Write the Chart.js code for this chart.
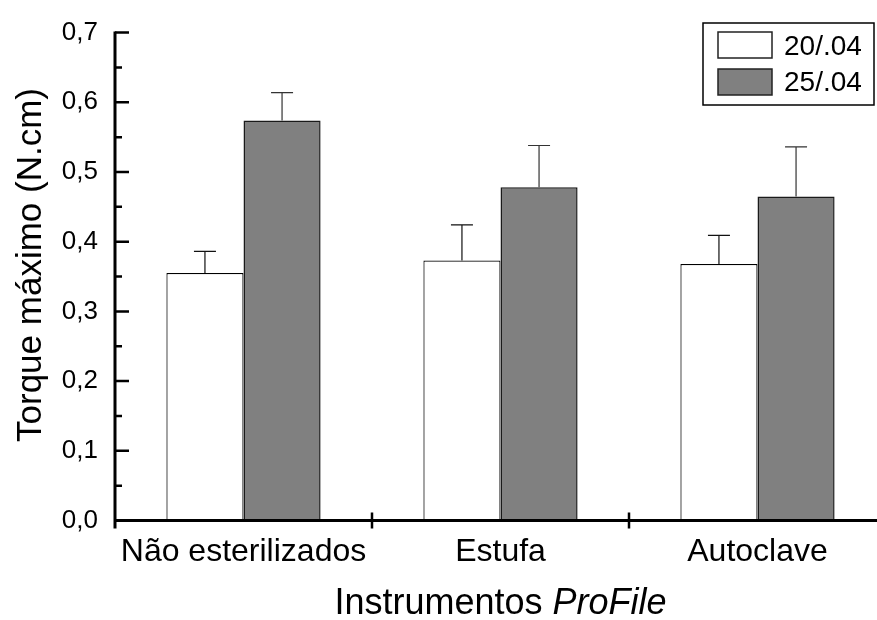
<!DOCTYPE html>
<html>
<head>
<meta charset="utf-8">
<script src="https://cdn.jsdelivr.net/npm/chart.js@4/dist/chart.umd.min.js"></script>
<style>
  html, body { margin: 0; padding: 0; background: #fff; overflow: hidden; }
  #wrap { width: 877px; height: 620px; overflow: hidden; }
</style>
</head>
<body>
<div id="wrap"><canvas id="chart" width="890" height="620"></canvas></div>
<script>
// dados
const categories = ['Não esterilizados', 'Estufa', 'Autoclave'];
const seriesLabels = ['20/.04', '25/.04'];
const values2004 = [0.355, 0.373, 0.368];
const values2504 = [0.574, 0.478, 0.465];
const errors2004 = [0.031, 0.051, 0.041];
const errors2504 = [0.040, 0.060, 0.071];
const yMin = 0, yMax = 0.7, yStep = 0.1;
const yTitle = 'Torque máximo (N.cm)';
const xTitleNormal = 'Instrumentos ';
const xTitleItalic = 'ProFile';

const FONT = '"Liberation Sans", Arial, sans-serif';

// barras de erro, eixos com ticks para dentro, legenda e títulos dos eixos
const extrasPlugin = {
    id: 'extras',
    afterDatasetsDraw(chart) {
        const ctx = chart.ctx;
        const x = chart.scales.x, y = chart.scales.y;
        const area = chart.chartArea;
        const errs = [errors2004, errors2504];

        // barras de erro (só para cima)
        ctx.save();
        ctx.lineWidth = 1.2;
        chart.data.datasets.forEach(function (ds, d) {
            const meta = chart.getDatasetMeta(d);
            ctx.strokeStyle = d === 0 ? '#111' : '#333';
            meta.data.forEach(function (bar, i) {
                const top = y.getPixelForValue(ds.data[i] + errs[d][i]);
                const base = y.getPixelForValue(ds.data[i]);
                ctx.beginPath();
                ctx.moveTo(bar.x, base);
                ctx.lineTo(bar.x, top);
                ctx.moveTo(bar.x - 11, top);
                ctx.lineTo(bar.x + 11, top);
                ctx.stroke();
            });
        });

        // eixos
        ctx.strokeStyle = '#000';
        ctx.lineWidth = 3;
        ctx.beginPath();
        ctx.moveTo(area.left, area.top - 1);
        ctx.lineTo(area.left, area.bottom + 8);
        ctx.moveTo(area.left, area.bottom);
        ctx.lineTo(area.right, area.bottom);
        ctx.stroke();

        // ticks do eixo y (maiores e menores, para dentro)
        ctx.lineWidth = 2.5;
        ctx.beginPath();
        for (let v = yMin; v <= yMax + 1e-9; v += yStep / 2) {
            const py = y.getPixelForValue(v);
            const major = Math.abs(Math.round(v / yStep) * yStep - v) < 1e-6;
            ctx.moveTo(area.left, py);
            ctx.lineTo(area.left + (major ? 14 : 7), py);
        }
        ctx.stroke();

        // ticks do eixo x nos limites das categorias
        ctx.beginPath();
        for (let i = 0; i < categories.length - 1; i++) {
            const px = (x.getPixelForValue(i) + x.getPixelForValue(i + 1)) / 2;
            ctx.moveTo(px, area.bottom - 8);
            ctx.lineTo(px, area.bottom + 8);
        }
        ctx.stroke();

        // legenda
        const lx = 703, ly = 23, lw = 171, lh = 82;
        ctx.fillStyle = '#fff';
        ctx.fillRect(lx, ly, lw, lh);
        ctx.lineWidth = 1.5;
        ctx.strokeStyle = '#000';
        ctx.strokeRect(lx, ly, lw, lh);
        ctx.font = '28px ' + FONT;
        ctx.textBaseline = 'alphabetic';
        ctx.textAlign = 'left';
        chart.data.datasets.forEach(function (ds, d) {
            const sy = 32 + d * 37;
            ctx.fillStyle = ds.backgroundColor;
            ctx.fillRect(718, sy, 54, 26);
            ctx.lineWidth = 1.5;
            ctx.strokeStyle = '#222';
            ctx.strokeRect(718, sy, 54, 26);
            ctx.fillStyle = '#000';
            ctx.fillText(ds.label, 784, 55 + d * 36);
        });

        // título do eixo x, com "ProFile" em itálico
        const center = (area.left + area.right) / 2;
        ctx.font = '36px ' + FONT;
        const w1 = ctx.measureText(xTitleNormal).width;
        ctx.font = 'italic 36px ' + FONT;
        const w2 = ctx.measureText(xTitleItalic).width;
        const start = center - (w1 + w2) / 2;
        ctx.fillStyle = '#000';
        ctx.font = '36px ' + FONT;
        ctx.fillText(xTitleNormal, start, 614);
        ctx.font = 'italic 36px ' + FONT;
        ctx.fillText(xTitleItalic, start + w1, 614);

        // título do eixo y (rotacionado)
        ctx.translate(41, 265);
        ctx.rotate(-Math.PI / 2);
        ctx.font = '35px ' + FONT;
        ctx.textAlign = 'center';
        ctx.fillText(yTitle, 0, 0);
        ctx.restore();
    }
};

new Chart(document.getElementById('chart'), {
    type: 'bar',
    data: {
        labels: categories,
        datasets: [{
            label: seriesLabels[0],
            data: values2004,
            backgroundColor: '#ffffff',
            borderColor: '#000000',
            borderWidth: 1.2,
            borderSkipped: false
        }, {
            label: seriesLabels[1],
            data: values2504,
            backgroundColor: '#808080',
            borderColor: '#1a1a1a',
            borderWidth: 1.5,
            borderSkipped: false
        }]
    },
    options: {
        responsive: false,
        animation: false,
        devicePixelRatio: 1,
        layout: { padding: { top: 28, left: 0, right: 4, bottom: 0 } },
        plugins: {
            legend: { display: false },
            tooltip: { enabled: false }
        },
        datasets: {
            bar: { categoryPercentage: 0.6, barPercentage: 1.0 }
        },
        scales: {
            x: {
                grid: { display: false, drawTicks: false },
                border: { display: false },
                ticks: {
                    color: '#000',
                    font: { family: FONT, size: 32 },
                    padding: 12,
                    maxRotation: 0,
                    autoSkip: false
                },
                afterFit: function (scale) { scale.height = 99.5; }
            },
            y: {
                min: yMin,
                max: yMax,
                grid: { display: false, drawTicks: false },
                border: { display: false },
                ticks: {
                    stepSize: yStep,
                    color: '#000',
                    padding: 17,
                    font: { family: FONT, size: 26 },
                    callback: function (v) { return v.toFixed(1).replace('.', ','); }
                },
                afterFit: function (scale) { scale.width = 115; }
            }
        }
    },
    plugins: [extrasPlugin]
});
</script>
</body>
</html>
